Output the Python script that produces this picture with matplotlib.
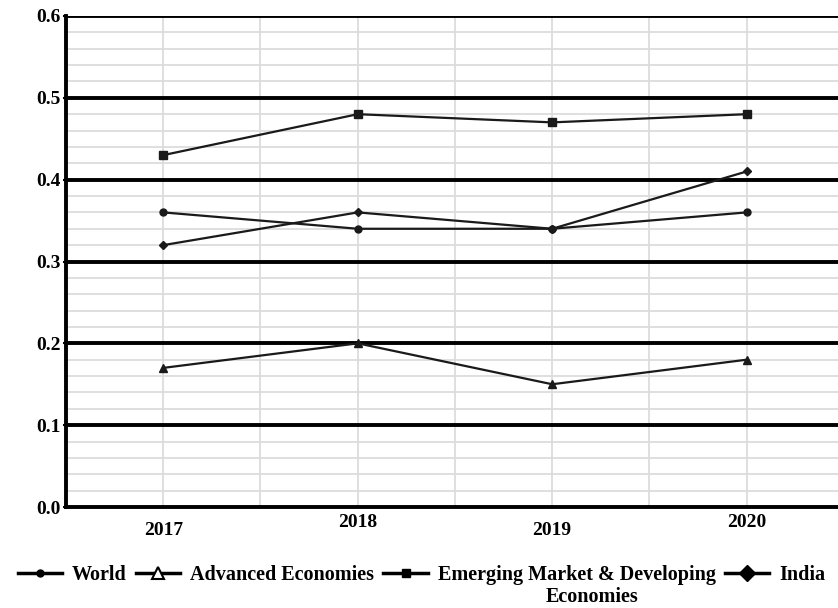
import matplotlib
matplotlib.use("Agg")
import matplotlib.pyplot as plt
from matplotlib.lines import Line2D
import numpy as np

years = ["2017", "2018", "2019", "2020"]
world = [0.36, 0.34, 0.34, 0.36]
advanced = [0.17, 0.20, 0.15, 0.18]
emerging = [0.43, 0.48, 0.47, 0.48]
india = [0.32, 0.36, 0.34, 0.41]
yticks = [0.0, 0.1, 0.2, 0.3, 0.4, 0.5, 0.6]

plt.rcParams['font.family'] = ['Liberation Serif', 'DejaVu Serif']
plt.rcParams['font.weight'] = 'bold'

fig = plt.figure(figsize=(8.38, 6.08), dpi=100)
ax = fig.add_axes([0.0788, 0.1661, 0.9282, 0.8076])

x = np.arange(len(years))
lw = 1.6
ax.plot(x, world, color='#1a1a1a', lw=lw, marker='o', ms=5, zorder=5)
ax.plot(x, advanced, color='#1a1a1a', lw=lw, marker='^', ms=6, zorder=5)
ax.plot(x, emerging, color='#1a1a1a', lw=lw, marker='s', ms=6, zorder=5)
ax.plot(x, india, color='#1a1a1a', lw=lw, marker='D', ms=4.5, zorder=5)

ax.set_xlim(-0.5, 3.5)
ax.set_ylim(0, 0.6)

# minor horizontal grid
for v in np.arange(0.02, 0.6, 0.02):
    if abs(v * 10 - round(v * 10)) > 1e-6:
        ax.axhline(v, color='#dcdcdc', lw=1.3, zorder=1)
for xv in np.arange(0, 3.6, 0.5):
    ax.axvline(xv, color='#dcdcdc', lw=1.3, zorder=1)
for v in yticks[1:]:
    ax.axhline(v, color='black', lw=2.8, zorder=3)

for s in ['top', 'right']:
    ax.spines[s].set_visible(False)
ax.spines['left'].set_linewidth(2.8)
ax.spines['bottom'].set_linewidth(2.8)
ax.spines['left'].set_zorder(4)
ax.spines['bottom'].set_zorder(4)

ax.set_yticks(yticks)
ax.set_yticklabels([f"{v:.1f}" for v in yticks], fontsize=14, fontweight='bold')
ax.tick_params(axis='y', length=2, width=1.5, pad=2)
ax.set_xticks(x)
ax.set_xticklabels(years, fontsize=14, fontweight='bold')
ax.tick_params(axis='x', length=0)
pads = [11, 5, 11, 5]
for t, p in zip(ax.xaxis.get_major_ticks(), pads):
    t.set_pad(p)

handles = [
    Line2D([], [], color='black', lw=2.5, marker='o', ms=5),
    Line2D([], [], color='black', lw=2.5, marker='^', ms=8, mfc='white', mew=1.5),
    Line2D([], [], color='black', lw=2.5, marker='s', ms=6),
    Line2D([], [], color='black', lw=2.5, marker='D', ms=8),
]
labels = ["World", "Advanced Economies", "Emerging Market & Developing", "India"]
leg = fig.legend(handles, labels, loc='center', bbox_to_anchor=(0.503, 1 - 575 / 608),
                 ncol=4, frameon=False, fontsize=14.5, handlelength=2.2,
                 handletextpad=0.5, columnspacing=0.45, borderaxespad=0)
for t in leg.get_texts():
    t.set_fontweight('bold')

fig.canvas.draw()
r = fig.canvas.get_renderer()
bb = leg.get_texts()[2].get_window_extent(r)
cx = (bb.x0 + bb.x1) / 2 + 15
fig.text(cx / fig.bbox.width, 1 - 597 / 608, "Economies", ha='center', va='center',
         fontsize=14.5, fontweight='bold')

fig.savefig("out.png", dpi=100)
